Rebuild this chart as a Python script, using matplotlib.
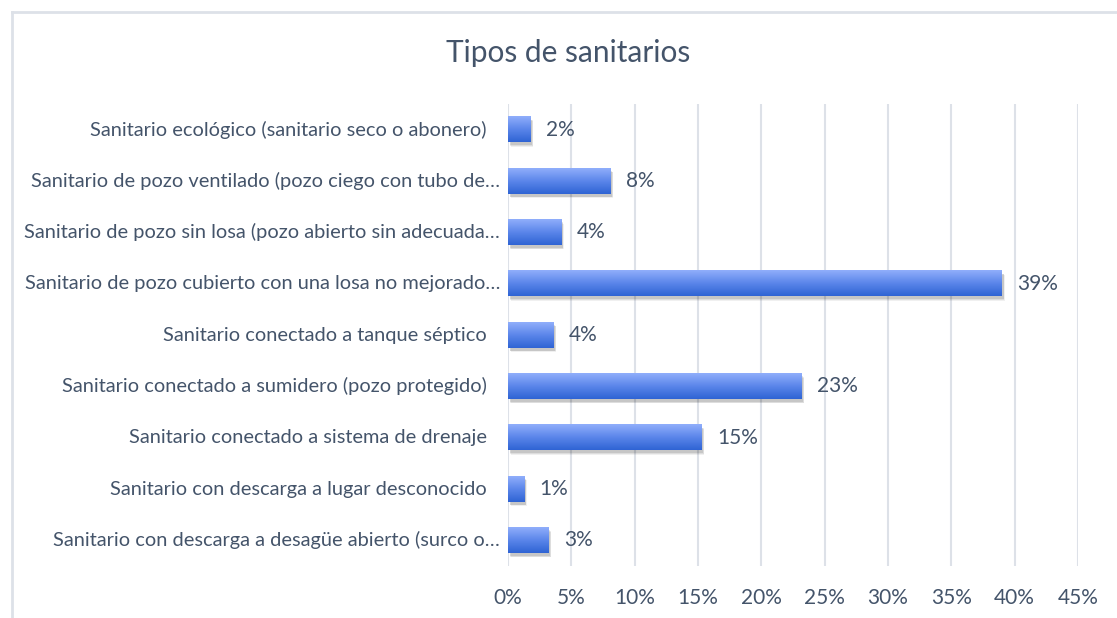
import matplotlib
matplotlib.use("Agg")
import matplotlib.pyplot as plt
import numpy as np
from matplotlib.patches import Rectangle
from matplotlib.lines import Line2D
from matplotlib.colors import LinearSegmentedColormap
from matplotlib import transforms

categories = [
    "Sanitario ecológico (sanitario seco o abonero)",
    "Sanitario de pozo ventilado (pozo ciego con tubo de…",
    "Sanitario de pozo sin losa (pozo abierto sin adecuada…",
    "Sanitario de pozo cubierto con una losa no mejorado…",
    "Sanitario conectado a tanque séptico",
    "Sanitario conectado a sumidero (pozo protegido)",
    "Sanitario conectado a sistema de drenaje",
    "Sanitario con descarga a lugar desconocido",
    "Sanitario con descarga a desagüe abierto (surco o…",
]
values = [1.8, 8.1, 4.2, 39.0, 3.6, 23.2, 15.3, 1.3, 3.2]
labels = ["2%", "8%", "4%", "39%", "4%", "23%", "15%", "1%", "3%"]
xticks = [0, 5, 10, 15, 20, 25, 30, 35, 40, 45]
xticklabels = ["0%", "5%", "10%", "15%", "20%", "25%", "30%", "35%", "40%", "45%"]
title = "Tipos de sanitarios"

plt.rcParams['font.family'] = ['Lato', 'DejaVu Sans']
txt = "#44546A"

fig = plt.figure(figsize=(11.17, 6.18), dpi=100)
ax = fig.add_axes([508/1117, 1-566/618, 570/1117, 462/618])

n = len(categories)
ypos = np.arange(n)[::-1]
h = 0.5
ax.set_xlim(0, 45)
ax.set_ylim(-0.5, n-0.5)

cmap = LinearSegmentedColormap.from_list("g", ["#2F64D4", "#5B86EA", "#90AEFB"])
grad = np.linspace(0, 1, 64).reshape(-1, 1)

for y, v, lab, cat in zip(ypos, values, labels, categories):
    for k, a in [(3, 0.06), (2, 0.08), (1, 0.10)]:
        off2 = transforms.offset_copy(ax.transData, fig=fig, x=1 + k*0.5, y=-2 - k*0.7, units='dots')
        ax.add_patch(Rectangle((0, y - h/2), v, h, facecolor="#000000", alpha=a,
                               edgecolor='none', transform=off2, zorder=2))
    ax.imshow(grad, extent=[0, v, y - h/2, y + h/2], origin='lower', cmap=cmap,
              aspect='auto', zorder=3, interpolation='bilinear')
    ax.annotate(lab, xy=(v, y), xytext=(11, 0), textcoords='offset points',
                ha='left', va='center', fontsize=15, color=txt, zorder=4)
    gap = -8 if cat.endswith("…") else -21
    ax.annotate(cat, xy=(0, y), xycoords=('axes fraction', 'data'), xytext=(gap, 0),
                textcoords='offset pixels', ha='right', va='center',
                fontsize=14.4, color=txt, annotation_clip=False)

ax.set_xlim(0, 45)
ax.set_ylim(-0.5, n-0.5)
ax.set_xticks(xticks)
ax.set_xticklabels(xticklabels, fontsize=15, color=txt)
ax.set_yticks(ypos)
ax.set_yticklabels([])
ax.tick_params(axis='x', length=0, pad=16)
ax.tick_params(axis='y', length=0)
ax.grid(axis='x', color="#DDE1E8", linewidth=1.5, zorder=0)
ax.grid(axis='y', visible=False)
ax.set_axisbelow(True)
for s in ax.spines.values():
    s.set_visible(False)

fig.text(568/1117, 1-53/618, title, ha='center', va='center', fontsize=21.5, color=txt)

# chart border
fig.add_artist(Line2D([11.5/1117, 1.0], [1-11.5/618]*2, transform=fig.transFigure, color="#DDE1E8", lw=2))
fig.add_artist(Line2D([11.5/1117]*2, [0, 1-11.5/618], transform=fig.transFigure, color="#DDE1E8", lw=2))

fig.savefig("out.png", dpi=100)
